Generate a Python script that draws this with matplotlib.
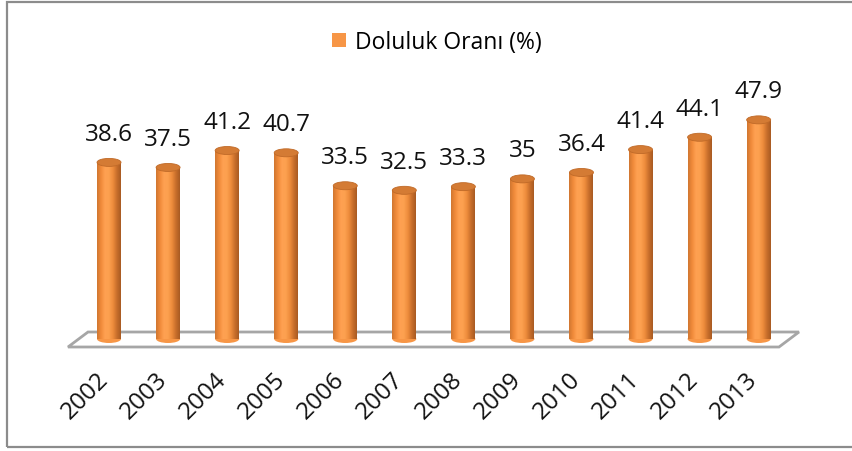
import numpy as np
import matplotlib
matplotlib.use("Agg")
import matplotlib.pyplot as plt
from matplotlib.patches import Ellipse, Rectangle, Polygon, Patch
from matplotlib.colors import LinearSegmentedColormap
from matplotlib.transforms import ScaledTranslation

years = ["2002", "2003", "2004", "2005", "2006", "2007", "2008", "2009", "2010", "2011", "2012", "2013"]
values = [38.6, 37.5, 41.2, 40.7, 33.5, 32.5, 33.3, 35, 36.4, 41.4, 44.1, 47.9]
series_name = "Doluluk Oranı (%)"

plt.rcParams['font.family'] = ['Open Sans', 'DejaVu Sans']

W, H = 853, 452
fig = plt.figure(figsize=(W / 100, H / 100), dpi=100)

def fx(px):
    return px / W

def fy(py):
    return 1 - py / H

# axes geometry (pixels)
L, R, B, T = 60, 800, 340, 60
ax = fig.add_axes([fx(L), fy(B), (R - L) / W, (B - T) / H])
xa, xb = -0.83, 11.70
pxu_x = (R - L) / (xb - xa)
pxu_y = 4.575
ya, yb = 0, (B - T) / pxu_y

x = np.arange(len(years))
bw = 24 / pxu_x
eh = 8 / pxu_y

cmap = LinearSegmentedColormap.from_list(
    'cyl', ['#CF7630', '#F08A3A', '#FFA152', '#FCA04F', '#EE8C3C', '#C86E2B', '#A85A22'])
grad = np.linspace(0, 1, 256)[None, :]

bars = ax.bar(x, values, width=bw, color='#F79646', zorder=3)
for xc, v, bar in zip(x, values, bars):
    im = ax.imshow(grad, extent=(xc - bw / 2, xc + bw / 2, 0, v), aspect='auto',
                   cmap=cmap, zorder=3.1, interpolation='bilinear')
    im.set_clip_path(bar)
    bot = Ellipse((xc, 0), bw, eh, facecolor='#F79646', edgecolor='none', zorder=2.9,
                  clip_on=False)
    ax.add_patch(bot)
    im2 = ax.imshow(grad, extent=(xc - bw / 2, xc + bw / 2, -eh / 2, eh / 2), aspect='auto',
                    cmap=cmap, zorder=3.0, interpolation='bilinear')
    im2.set_clip_path(bot)
    top = Ellipse((xc, v), bw, eh, facecolor='#D47B34', edgecolor='#C06A28', lw=0.6,
                  zorder=4)
    ax.add_patch(top)
    ax.annotate(f"{v:g}", (xc, v), xytext=(0, 12), textcoords='offset points',
                ha='center', va='bottom', fontsize=17.5, color='#111111')

# floor
yf, yk = -8 / pxu_y, 7 / pxu_y
floor = Polygon([(xa + (68 - L) / pxu_x, yf), (xa + (88 - L) / pxu_x, yk),
                 (xa + (799 - L) / pxu_x, yk), (xa + (779 - L) / pxu_x, yf)],
                closed=True, facecolor='white', edgecolor='#A6A6A6', lw=2,
                zorder=1, clip_on=False)
ax.add_patch(floor)

ax.set_xlim(xa, xb)
ax.set_ylim(ya, yb)
ax.set_xticks(x, labels=years, rotation=45, ha='right', rotation_mode='anchor',
              fontsize=17.5, color='#111111')
ax.set_yticks([])
ax.tick_params(length=0, pad=20)
shift = ScaledTranslation(-13 / 100, 0, fig.dpi_scale_trans)
for lab in ax.get_xticklabels():
    lab.set_transform(lab.get_transform() + shift)
for s in ax.spines.values():
    s.set_visible(False)
ax.patch.set_visible(False)

fig.legend(handles=[Patch(facecolor='#F79646', edgecolor='none')], labels=[series_name],
           loc='center', bbox_to_anchor=(fx(437), fy(43)), frameon=False, fontsize=16.5,
           handlelength=0.62, handleheight=0.62, handletextpad=0.4)

fig.patches.append(Rectangle((fx(7), fy(448)), 1.05 - fx(7), fy(3) - fy(448),
                             transform=fig.transFigure, fill=False,
                             edgecolor='#8C8C8C', lw=1.6))

fig.savefig('out.png', dpi=100)
